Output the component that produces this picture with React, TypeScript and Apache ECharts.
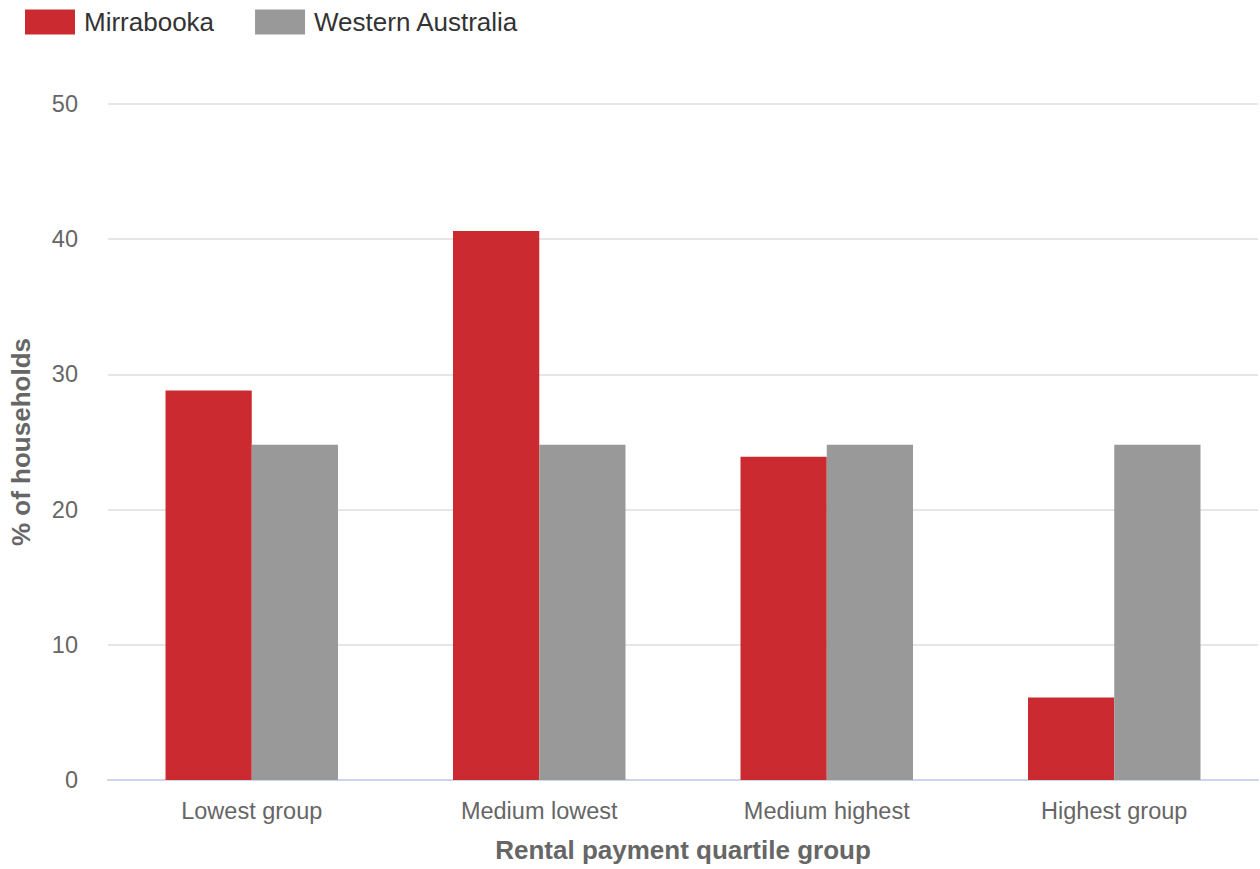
import React, { useEffect, useRef } from "react";
import * as echarts from "echarts";

const categories = ["Lowest group", "Medium lowest", "Medium highest", "Highest group"];
const mirrabooka = [28.8, 40.6, 23.9, 6.1];
const westernAustralia = [24.8, 24.8, 24.8, 24.8];
const seriesNames = ["Mirrabooka", "Western Australia"];
const yTicks = { min: 0, max: 50, interval: 10 };

const FONT = "'Liberation Sans', Arial, Helvetica, sans-serif";

export default function App() {
  const ref = useRef<HTMLDivElement>(null);
  useEffect(() => {
    if (!ref.current) return;
    const chart = echarts.init(ref.current, undefined, { renderer: "svg" });
    chart.setOption({
      animation: false,
      textStyle: { fontFamily: FONT },
      legend: {
        left: 20,
        top: 4,
        itemWidth: 50,
        itemHeight: 25,
        itemGap: 41,
        icon: "rect",
        textStyle: { fontSize: 26, color: "#333333", fontFamily: FONT, padding: [0, 0, 0, 4] },
        data: seriesNames,
      },
      grid: { left: 106, right: 2, top: 104, bottom: 89, containLabel: false },
      xAxis: {
        type: "category",
        data: categories,
        name: "Rental payment quartile group",
        nameLocation: "middle",
        nameGap: 57,
        nameTextStyle: { fontSize: 26, fontWeight: "bold", color: "#666666", fontFamily: FONT },
        axisLine: { lineStyle: { color: "#ccd6eb", width: 2 } },
        axisTick: { alignWithLabel: true, length: 19, lineStyle: { color: "#ccd6eb", width: 2 } },
        axisLabel: { fontSize: 23.5, color: "#666666", margin: 19, fontFamily: FONT },
      },
      yAxis: {
        type: "value",
        min: yTicks.min,
        max: yTicks.max,
        interval: yTicks.interval,
        name: "% of households",
        nameLocation: "middle",
        nameGap: 74,
        nameTextStyle: { fontSize: 26, fontWeight: "bold", color: "#666666", fontFamily: FONT },
        axisLine: { show: false },
        axisTick: { show: false },
        axisLabel: { fontSize: 23.5, color: "#666666", margin: 30, fontFamily: FONT },
        splitLine: { lineStyle: { color: "#e6e6e6", width: 2 } },
      },
      series: [
        {
          name: seriesNames[0],
          type: "bar",
          data: mirrabooka,
          barWidth: "30%",
          barGap: "0%",
          itemStyle: { color: "#cb2b30" },
        },
        {
          name: seriesNames[1],
          type: "bar",
          data: westernAustralia,
          barWidth: "30%",
          barGap: "0%",
          itemStyle: { color: "#999999" },
        },
      ],
    });
    return () => chart.dispose();
  }, []);
  return (
    <div
      ref={ref}
      style={{ position: "fixed", left: 0, top: 0, width: 1260, height: 869, background: "#ffffff" }}
    />
  );
}
